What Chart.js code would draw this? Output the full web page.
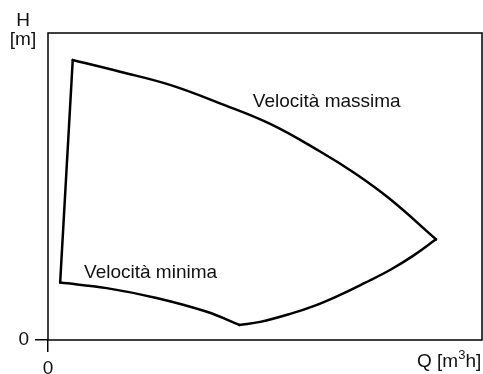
<!DOCTYPE html>
<html>
<head>
<meta charset="utf-8">
<script src="https://cdn.jsdelivr.net/npm/chart.js@4/dist/chart.umd.min.js"></script>
<style>
  html, body { margin: 0; padding: 0; background: #fff; }
  #wrap { width: 483px; height: 374px; }
</style>
</head>
<body>
<div id="wrap"><canvas id="c" width="483" height="374"></canvas></div>
<script>
// ---- data (Q in % of axis range, H in % of axis range) ----
const maxSpeedQ = [5.7, 16.6, 28.1, 39.6, 51.2, 62.7, 70.7, 78.8, 89.4];
const maxSpeedH = [91.2, 87.4, 83.1, 77.1, 70.4, 61.4, 54.3, 45.9, 32.8];
const minSpeedQ = [2.8, 13.5, 25.0, 36.6, 44.1];
const minSpeedH = [18.7, 16.9, 13.7, 9.2, 4.9];
const maxFlowQ = [44.1, 48.9, 55.8, 61.5, 67.3, 73.0, 78.8, 84.1, 89.4];
const maxFlowH = [4.9, 5.9, 8.5, 11.2, 14.7, 18.6, 22.8, 27.4, 32.8];
const minFlowQ = [2.8, 5.7];
const minFlowH = [18.7, 91.2];
const xTickValues = [0];
const yTickValues = [0];
const curveLabels = ['Velocità massima', 'Velocità minima'];
const curveLabelQ = [47.2, 8.3];
const curveLabelH = [75.9, 20.2];

const FONT = '"Liberation Sans", Arial, sans-serif';
const FS = 19;

function pts(q, h) { return q.map((v, i) => ({ x: v, y: h[i] })); }
function ds(q, h) {
  return { data: pts(q, h), showLine: true, borderColor: '#000', borderWidth: 2.5,
           pointRadius: 0, tension: 0.4, fill: false,
           borderJoinStyle: 'miter', borderCapStyle: 'round' };
}

const framePlugin = {
  id: 'frame',
  afterDatasetsDraw(chart) {
    const { ctx, chartArea: a, scales } = chart;
    ctx.save();
    ctx.strokeStyle = '#000';
    ctx.lineWidth = 1.5;
    ctx.strokeRect(a.left, a.top, a.right - a.left, a.bottom - a.top);
    ctx.fillStyle = '#111';
    ctx.font = FS + 'px ' + FONT;
    ctx.textBaseline = 'alphabetic';
    ctx.textAlign = 'left';
    curveLabels.forEach((t, i) => {
      ctx.fillText(t, scales.x.getPixelForValue(curveLabelQ[i]), scales.y.getPixelForValue(curveLabelH[i]));
    });
    // axis titles
    ctx.textAlign = 'center';
    ctx.fillText('H', 23, 26);
    ctx.fillText('[m]', 23, 45);
    // Q [m3h]
    ctx.textAlign = 'left';
    const base = 367;
    let x = 417;
    const p1 = 'Q [m';
    ctx.fillText(p1, x, base);
    x += ctx.measureText(p1).width;
    ctx.font = Math.round(FS * 0.7) + 'px ' + FONT;
    ctx.fillText('3', x, base - 8);
    x += ctx.measureText('3').width;
    ctx.font = FS + 'px ' + FONT;
    ctx.fillText('h]', x, base);
    ctx.restore();
  }
};

new Chart(document.getElementById('c'), {
  type: 'scatter',
  data: {
    datasets: [
      ds(maxSpeedQ, maxSpeedH),
      ds(maxFlowQ, maxFlowH),
      ds(minSpeedQ, minSpeedH),
      ds(minFlowQ, minFlowH)
    ]
  },
  options: {
    responsive: false,
    animation: false,
    layout: { padding: { left: 0, top: 33, right: 1, bottom: 0 } },
    plugins: { legend: { display: false }, tooltip: { enabled: false } },
    scales: {
      x: {
        type: 'linear', min: 0, max: 100,
        afterBuildTicks(s) { s.ticks = xTickValues.map(v => ({ value: v })); },
        afterFit(s) { s.height = 34; },
        border: { display: false },
        grid: { drawOnChartArea: false, drawTicks: true, tickLength: 12, color: '#000', lineWidth: 1.5 },
        ticks: { color: '#111', font: { family: FONT, size: FS }, padding: 5, maxRotation: 0, autoSkip: false }
      },
      y: {
        type: 'linear', min: 0, max: 100,
        afterBuildTicks(s) { s.ticks = yTickValues.map(v => ({ value: v })); },
        afterFit(s) { s.width = 48; },
        border: { display: false },
        grid: { drawOnChartArea: false, drawTicks: true, tickLength: 13, color: '#000', lineWidth: 1.5 },
        ticks: { color: '#111', font: { family: FONT, size: FS }, padding: 6, autoSkip: false }
      }
    }
  },
  plugins: [framePlugin]
});
</script>
</body>
</html>
